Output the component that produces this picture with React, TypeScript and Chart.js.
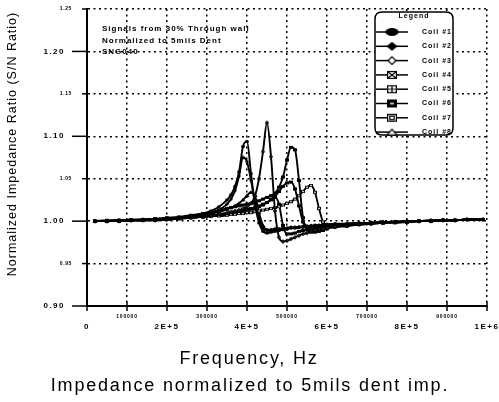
import { useEffect, useRef } from 'react';
import { Chart, registerables } from 'chart.js';

Chart.register(...registerables);

// ---------------- data ----------------
const FREQ_HZ = [
  20000, 50000, 80000, 110000, 140000, 170000, 200000,
  230000, 260000, 290000, 310000, 330000, 350000,
  360000, 370000, 380000, 390000, 400000,
  410000, 420000, 430000, 440000, 450000, 460000, 470000, 480000,
  490000, 500000, 510000, 520000, 530000, 540000, 550000, 560000, 570000, 580000, 590000, 600000,
  620000, 650000, 680000, 710000, 740000, 770000, 800000, 830000, 860000, 890000, 920000, 950000, 990000,
];

const COIL_1 = [
  1.000, 1.000, 1.000, 1.001, 1.001, 1.002, 1.003,
  1.004, 1.006, 1.009, 1.012, 1.017, 1.025,
  1.031, 1.041, 1.058, 1.088, 1.094,
  1.056, 1.020, 0.998, 0.988, 0.986, 0.987, 0.988, 0.989,
  0.990, 0.991, 0.992, 0.992, 0.993, 0.993, 0.994, 0.994, 0.995, 0.995, 0.996, 0.996,
  0.997, 0.997, 0.998, 0.998, 0.999, 0.999, 1.000, 1.000, 1.000, 1.001, 1.001, 1.002, 1.002,
];
const COIL_2 = [
  1.000, 1.000, 1.001, 1.001, 1.002, 1.002, 1.003,
  1.004, 1.005, 1.007, 1.009, 1.013, 1.020,
  1.026, 1.036, 1.053, 1.075, 1.070,
  1.048, 1.022, 1.003, 0.992, 0.989, 0.989, 0.990, 0.990,
  0.991, 0.991, 0.992, 0.992, 0.993, 0.993, 0.994, 0.994, 0.995, 0.995, 0.995, 0.996,
  0.996, 0.997, 0.998, 0.998, 0.999, 0.999, 1.000, 1.000, 1.001, 1.001, 1.001, 1.002, 1.002,
];
const COIL_3 = [
  1.000, 1.000, 1.000, 1.001, 1.001, 1.001, 1.002,
  1.003, 1.004, 1.005, 1.006, 1.008, 1.010,
  1.011, 1.012, 1.013, 1.015, 1.017,
  1.021, 1.030, 1.050, 1.082, 1.116, 1.076, 1.012, 0.981,
  0.976, 0.977, 0.979, 0.981, 0.983, 0.985, 0.986, 0.988, 0.989, 0.990, 0.991, 0.992,
  0.993, 0.995, 0.996, 0.997, 0.998, 0.999, 0.999, 1.000, 1.000, 1.001, 1.001, 1.002, 1.002,
];
const COIL_4 = [
  1.000, 1.001, 1.001, 1.002, 1.002, 1.003, 1.004,
  1.005, 1.007, 1.009, 1.011, 1.013, 1.015,
  1.016, 1.017, 1.018, 1.019, 1.020,
  1.021, 1.022, 1.024, 1.026, 1.028, 1.030, 1.033, 1.040,
  1.052, 1.072, 1.087, 1.084, 1.048, 1.004, 0.992, 0.990, 0.991, 0.992, 0.993, 0.994,
  0.995, 0.996, 0.997, 0.998, 0.998, 0.999, 0.999, 1.000, 1.000, 1.001, 1.001, 1.002, 1.002,
];
const COIL_5 = [
  1.000, 1.000, 1.001, 1.001, 1.002, 1.002, 1.003,
  1.004, 1.005, 1.006, 1.007, 1.008, 1.009,
  1.010, 1.011, 1.012, 1.013, 1.014,
  1.015, 1.016, 1.018, 1.020, 1.022, 1.025, 1.029, 1.035,
  1.041, 1.045, 1.046, 1.038, 1.018, 0.999, 0.990, 0.987, 0.987, 0.988, 0.989, 0.991,
  0.993, 0.994, 0.996, 0.997, 0.998, 0.998, 0.999, 1.000, 1.000, 1.001, 1.001, 1.002, 1.002,
];
const COIL_6 = [
  1.000, 1.000, 1.000, 1.001, 1.001, 1.002, 1.002,
  1.003, 1.004, 1.005, 1.006, 1.006, 1.007,
  1.008, 1.008, 1.009, 1.009, 1.010,
  1.010, 1.011, 1.012, 1.013, 1.014, 1.015, 1.016, 1.017,
  1.019, 1.021, 1.023, 1.026, 1.030, 1.035, 1.040, 1.042, 1.034, 1.015, 0.999, 0.994,
  0.994, 0.995, 0.996, 0.997, 0.998, 0.999, 0.999, 1.000, 1.000, 1.001, 1.001, 1.002, 1.002,
];
const COIL_7 = [
  1.000, 1.000, 1.000, 1.001, 1.001, 1.001, 1.002,
  1.003, 1.004, 1.005, 1.006, 1.007, 1.008,
  1.009, 1.010, 1.011, 1.012, 1.013,
  1.014, 1.015, 1.017, 1.019, 1.022, 1.026, 1.028, 1.020,
  0.995, 0.985, 0.985, 0.986, 0.988, 0.989, 0.990, 0.991, 0.992, 0.993, 0.993, 0.994,
  0.995, 0.996, 0.997, 0.998, 0.998, 0.999, 0.999, 1.000, 1.000, 1.001, 1.001, 1.002, 1.002,
];
const COIL_8 = [
  1.000, 1.000, 1.001, 1.001, 1.001, 1.002, 1.002,
  1.003, 1.005, 1.007, 1.009, 1.011, 1.014,
  1.016, 1.018, 1.021, 1.025, 1.030,
  1.034, 1.030, 1.010, 0.995, 0.990, 0.990, 0.991, 0.991,
  0.992, 0.992, 0.993, 0.993, 0.993, 0.994, 0.994, 0.995, 0.995, 0.995, 0.996, 0.996,
  0.996, 0.997, 0.997, 0.998, 0.999, 0.999, 1.000, 1.000, 1.001, 1.001, 1.001, 1.002, 1.002,
];

const SERIES = [COIL_1, COIL_2, COIL_3, COIL_4, COIL_5, COIL_6, COIL_7, COIL_8];
const SERIES_NAMES = ['Coil #1', 'Coil #2', 'Coil #3', 'Coil #4', 'Coil #5', 'Coil #6', 'Coil #7', 'Coil #8'];

const X_TICK_VALUES = [0, 100000, 200000, 300000, 400000, 500000, 600000, 700000, 800000, 900000, 1000000];
const X_TICK_LABELS = ['0', '100000', '2E+5', '300000', '4E+5', '500000', '6E+5', '700000', '8E+5', '900000', '1E+6'];
const Y_TICK_VALUES = [0.9, 0.95, 1.0, 1.05, 1.1, 1.15, 1.2, 1.25];
const Y_TICK_LABELS = ['0.90', '0.95', '1.00', '1.05', '1.10', '1.15', '1.20', '1.25'];

const NOTE_LINES = ['Signals from 30% Through wall', 'Normalized to 5mils Dent', 'SNG040'];
const X_TITLE = ['Frequency, Hz', 'Impedance normalized to 5mils dent imp.'];
const Y_TITLE = 'Normalized Impedance Ratio (S/N Ratio)';
const LEGEND_TITLE = 'Legend';

// ---------------- markers ----------------
function makeMarker(kind: number, w: number, h: number): HTMLCanvasElement {
  const pad = 1;
  const c = document.createElement('canvas');
  c.width = w + pad * 2;
  c.height = h + pad * 2;
  const g = c.getContext('2d') as CanvasRenderingContext2D;
  g.translate(pad, pad);
  g.lineWidth = 1.2;
  g.strokeStyle = '#000';
  g.fillStyle = '#000';
  const cx = w / 2;
  const cy = h / 2;
  const box = () => {
    g.fillStyle = '#fff';
    g.fillRect(0.6, 0.6, w - 1.2, h - 1.2);
    g.strokeRect(0.6, 0.6, w - 1.2, h - 1.2);
    g.fillStyle = '#000';
  };
  switch (kind) {
    case 0:
      g.beginPath();
      g.ellipse(cx, cy, w / 2, h / 2, 0, 0, Math.PI * 2);
      g.fill();
      break;
    case 1:
      g.beginPath();
      g.moveTo(cx, 0); g.lineTo(w, cy); g.lineTo(cx, h); g.lineTo(0, cy);
      g.closePath();
      g.fill();
      break;
    case 2:
      g.beginPath();
      g.moveTo(cx, 0.6); g.lineTo(w - 0.6, cy); g.lineTo(cx, h - 0.6); g.lineTo(0.6, cy);
      g.closePath();
      g.fillStyle = '#fff';
      g.fill();
      g.stroke();
      break;
    case 3:
      box();
      g.beginPath();
      g.moveTo(1, 1); g.lineTo(w - 1, h - 1);
      g.moveTo(w - 1, 1); g.lineTo(1, h - 1);
      g.stroke();
      break;
    case 4:
      box();
      g.beginPath();
      g.moveTo(cx, 0.6); g.lineTo(cx, h - 0.6);
      g.moveTo(0.6, cy); g.lineTo(w - 0.6, cy);
      g.stroke();
      break;
    case 5:
      g.fillRect(0, 0, w, h);
      g.fillStyle = '#fff';
      g.fillRect(cx - w * 0.2, cy - 0.7, w * 0.4, 1.4);
      break;
    case 6:
      box();
      g.strokeRect(w * 0.28, h * 0.28, w * 0.44, h * 0.44);
      break;
    default:
      g.beginPath();
      g.moveTo(cx, 0.6); g.lineTo(w - 0.6, h - 0.6); g.lineTo(0.6, h - 0.6);
      g.closePath();
      g.fillStyle = '#fff';
      g.fill();
      g.stroke();
      break;
  }
  return c;
}

const DATA_MARKER_SIZES: [number, number][] = [[4, 3], [4, 4], [4, 4], [4, 3], [4, 3], [4, 3], [4, 3], [4, 3]];
const LEGEND_MARKER_SIZES: [number, number][] = [[13, 8], [11, 9], [9, 9], [10, 8], [10, 8], [10, 8], [10, 8], [11, 7]];

export default function App() {
  const ref = useRef<HTMLCanvasElement | null>(null);

  useEffect(() => {
    document.body.style.margin = '0';
    const canvas = ref.current;
    if (!canvas) return;

    const dataMarkers = DATA_MARKER_SIZES.map(([w, h], i) => makeMarker(i, w, h));
    const legendMarkers = LEGEND_MARKER_SIZES.map(([w, h], i) => makeMarker(i, w, h));

    const decorations = {
      id: 'decorations',
      afterDraw(chart: any) {
        const { ctx, chartArea, scales } = chart;
        const xs = scales.x;
        const ys = scales.y;
        ctx.save();
        ctx.fillStyle = '#000';
        ctx.strokeStyle = '#000';

        // y ticks + labels
        Y_TICK_VALUES.forEach((v, i) => {
          const y = ys.getPixelForValue(v);
          const major = i % 2 === 0;
          ctx.lineWidth = 1.5;
          ctx.beginPath();
          ctx.moveTo(chartArea.left - (major ? 15 : 5), y);
          ctx.lineTo(chartArea.left, y);
          ctx.stroke();
          ctx.font = major ? 'bold 8px "Liberation Sans"' : 'bold 5px "Liberation Sans"';
          (ctx as any).letterSpacing = major ? '1.5px' : '0.6px';
          ctx.textAlign = 'right';
          ctx.textBaseline = 'middle';
          ctx.fillText(Y_TICK_LABELS[i], major ? chartArea.left - 22 : chartArea.left - 15, y);
        });

        // x ticks + labels
        X_TICK_VALUES.forEach((v, i) => {
          const x = xs.getPixelForValue(v);
          const major = i % 2 === 0;
          ctx.lineWidth = 1.5;
          ctx.beginPath();
          ctx.moveTo(x, chartArea.bottom - 4);
          ctx.lineTo(x, chartArea.bottom + 5);
          ctx.stroke();
          ctx.font = major ? 'bold 8px "Liberation Sans"' : 'bold 5px "Liberation Sans"';
          (ctx as any).letterSpacing = major ? '1.5px' : '0.8px';
          ctx.textAlign = 'center';
          ctx.textBaseline = 'middle';
          ctx.fillText(X_TICK_LABELS[i], x, major ? chartArea.bottom + 21 : chartArea.bottom + 11);
        });

        // annotation text
        ctx.font = 'bold 8px "Liberation Sans"';
        (ctx as any).letterSpacing = '1px';
        ctx.textAlign = 'left';
        ctx.textBaseline = 'middle';
        NOTE_LINES.forEach((t, i) => ctx.fillText(t, chartArea.left + 15, chartArea.top + 20 + i * 11.5));

        // x title
        ctx.font = '18px "Liberation Sans"';
        (ctx as any).letterSpacing = '1.8px';
        ctx.textAlign = 'center';
        ctx.textBaseline = 'alphabetic';
        ctx.fillText(X_TITLE[0], 249, 364);
        ctx.fillText(X_TITLE[1], 250, 391);

        // y title
        ctx.save();
        ctx.translate(16, 144);
        ctx.rotate(-Math.PI / 2);
        ctx.font = '12.5px "Liberation Sans"';
        (ctx as any).letterSpacing = '1px';
        ctx.textAlign = 'center';
        ctx.textBaseline = 'alphabetic';
        ctx.fillText(Y_TITLE, 0, 0);
        ctx.restore();

        // legend box
        const lx = 375, ly = 12, lw = 78, lh = 123, r = 7;
        ctx.beginPath();
        ctx.moveTo(lx + r, ly);
        ctx.lineTo(lx + lw - r, ly);
        ctx.quadraticCurveTo(lx + lw, ly, lx + lw, ly + r);
        ctx.lineTo(lx + lw, ly + lh - r);
        ctx.quadraticCurveTo(lx + lw, ly + lh, lx + lw - r, ly + lh);
        ctx.lineTo(lx + r, ly + lh);
        ctx.quadraticCurveTo(lx, ly + lh, lx, ly + lh - r);
        ctx.lineTo(lx, ly + r);
        ctx.quadraticCurveTo(lx, ly, lx + r, ly);
        ctx.closePath();
        ctx.fillStyle = '#fff';
        ctx.fill();
        ctx.lineWidth = 1.5;
        ctx.strokeStyle = '#000';
        ctx.stroke();
        ctx.fillStyle = '#000';

        ctx.font = 'bold 7px "Liberation Sans"';
        (ctx as any).letterSpacing = '1px';
        ctx.textAlign = 'center';
        ctx.textBaseline = 'middle';
        ctx.fillText(LEGEND_TITLE, 414, 16);

        ctx.textAlign = 'left';
        SERIES_NAMES.forEach((name, i) => {
          const y = 32 + i * 14.3;
          ctx.lineWidth = 1.5;
          ctx.beginPath();
          ctx.moveTo(lx + 1, y);
          ctx.lineTo(408, y);
          ctx.stroke();
          const m = legendMarkers[i];
          ctx.drawImage(m, 392 - m.width / 2, y - m.height / 2);
          ctx.fillText(name, 422, y);
        });

        ctx.restore();
      },
    };

    const chart = new Chart(canvas, {
      type: 'line',
      data: {
        datasets: SERIES.map((vals, i) => ({
          label: SERIES_NAMES[i],
          data: FREQ_HZ.map((f, j) => ({ x: f, y: vals[j] })),
          borderColor: '#000',
          backgroundColor: '#000',
          borderWidth: 1.9,
          pointStyle: dataMarkers[i] as any,
          pointRadius: 2,
          cubicInterpolationMode: 'monotone' as const,
          tension: 0.4,
          fill: false,
        })),
      },
      options: {
        animation: false,
        responsive: false,
        events: [],
        layout: { padding: { left: 87, top: 9, right: 12, bottom: 96 } },
        plugins: {
          legend: { display: false },
          tooltip: { enabled: false },
          title: { display: false },
        },
        scales: {
          x: {
            type: 'linear',
            min: 0,
            max: 1000000,
            ticks: { display: false, stepSize: 100000 },
            grid: { color: '#000', lineWidth: 1.5, drawTicks: false },
            border: { display: true, color: '#000', width: 2, dash: [2, 3.5] },
          },
          y: {
            type: 'linear',
            min: 0.9,
            max: 1.25,
            ticks: { display: false, stepSize: 0.05 },
            grid: { color: '#000', lineWidth: 1.5, drawTicks: false },
            border: { display: true, color: '#000', width: 2, dash: [2, 3.5] },
          },
        },
      } as any,
      plugins: [decorations],
    });

    return () => chart.destroy();
  }, []);

  return (
    <div style={{ width: 499, height: 402 }}>
      <canvas ref={ref} width={499} height={402} style={{ display: 'block', width: 499, height: 402 }} />
    </div>
  );
}
